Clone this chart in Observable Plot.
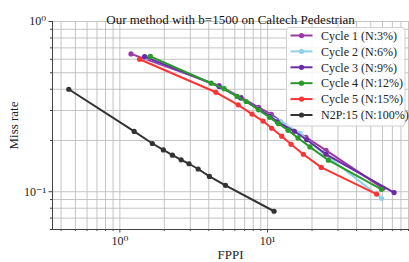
<!DOCTYPE html>
<html><head><meta charset="utf-8">
<script src="https://cdn.jsdelivr.net/npm/d3@7"></script>
<script src="https://cdn.jsdelivr.net/npm/@observablehq/plot@0.6"></script>
<style>
body{margin:0;background:#fff}
svg{font-family:"Liberation Serif","DejaVu Serif",serif}
</style>
</head><body><div id="chart"></div>
<script>
const titleText = "Our method with b=1500 on Caltech Pedestrian";
const seriesNames = ["Cycle 1 (N:3%)","Cycle 2 (N:6%)","Cycle 3 (N:9%)","Cycle 4 (N:12%)","Cycle 5 (N:15%)","N2P:15 (N:100%)"];
const seriesColors = ["#9b3aa6","#8fd0ea","#6a2ca6","#2a9a2a","#ff3333","#333333"];

const cycle1Fppi = [1.19, 4.70, 6.6, 8.7, 10.6, 13.5, 18.2, 24.9, 60.6];
const cycle1Miss = [0.645, 0.42, 0.358, 0.313, 0.285, 0.245, 0.209, 0.175, 0.1047];
const cycle2Fppi = [1.51, 4.9, 6.4, 8.6, 10.4, 12.2, 16.6, 24.0, 59.1];
const cycle2Miss = [0.617, 0.41, 0.36, 0.308, 0.278, 0.259, 0.22, 0.168, 0.0915];
const cycle3Fppi = [1.47, 4.70, 6.59, 8.67, 10.4, 11.65, 15.2, 18.4, 24.9, 71.9];
const cycle3Miss = [0.622, 0.415, 0.355, 0.307, 0.277, 0.257, 0.2265, 0.202, 0.166, 0.0989];
const cycle4Fppi = [1.61, 4.15, 5.08, 6.22, 7.16, 8.69, 10.3, 11.87, 13.76, 16.07, 19.36, 25.8, 59.1];
const cycle4Miss = [0.624, 0.434, 0.403, 0.363, 0.339, 0.303, 0.2735, 0.251, 0.2296, 0.207, 0.1834, 0.1532, 0.1033];
const cycle5Fppi = [1.36, 4.47, 6.32, 7.85, 9.33, 10.67, 12.47, 14.42, 17.46, 23.1, 54.7];
const cycle5Miss = [0.600, 0.384, 0.324, 0.286, 0.260, 0.236, 0.212, 0.190, 0.166, 0.139, 0.0969];
const n2pFppi = [0.451, 1.25, 1.66, 1.97, 2.27, 2.60, 2.94, 3.39, 4.04, 5.19, 11.07];
const n2pMiss = [0.400, 0.226, 0.192, 0.176, 0.164, 0.154, 0.146, 0.136, 0.123, 0.109, 0.0768];

const xMajorTicks = [1, 10];
const xTickLabels = ["10⁰", "10¹"];
const xMinorTicks = [0.4,0.5,0.6,0.7,0.8,0.9,2,3,4,5,6,7,8,9,20,30,40,50,60,70,80,90];
const yMajorTicks = [0.1, 1];
const yTickLabels = ["10⁻¹", "10⁰"];
const yMinorTicks = [0.06,0.07,0.08,0.09,0.2,0.3,0.4,0.5,0.6,0.7,0.8,0.9];

const fppiSets = [cycle1Fppi, cycle2Fppi, cycle3Fppi, cycle4Fppi, cycle5Fppi, n2pFppi];
const missSets = [cycle1Miss, cycle2Miss, cycle3Miss, cycle4Miss, cycle5Miss, n2pMiss];
const rows = [];
fppiSets.forEach((xs, i) => xs.forEach((x, j) => rows.push({series: seriesNames[i], fppi: x, miss: missSets[i][j]})));

const seriesMarks = [];
seriesNames.forEach(name => {
  const d = rows.filter(r => r.series === name);
  seriesMarks.push(Plot.line(d, {x: "fppi", y: "miss", stroke: "series", strokeWidth: 2}));
  seriesMarks.push(Plot.dot(d, {x: "fppi", y: "miss", fill: "series", r: 2.6}));
});

const plot = Plot.plot({
  width: 409, height: 262,
  marginLeft: 52, marginRight: 1, marginTop: 21, marginBottom: 33,
  style: {fontFamily: '"Liberation Serif","DejaVu Serif",serif', background: "#fff", color: "#222"},
  x: {type: "log", domain: [0.35, 90]},
  y: {type: "log", domain: [0.06, 1]},
  color: {domain: seriesNames, range: seriesColors},
  marks: [
    Plot.gridX({ticks: [...xMinorTicks, ...xMajorTicks], stroke: "#bdbdbd", strokeOpacity: 1, strokeWidth: 0.9}),
    Plot.gridY({ticks: [...yMinorTicks, ...yMajorTicks], stroke: "#bdbdbd", strokeOpacity: 1, strokeWidth: 0.9}),
    Plot.axisX({ticks: xMinorTicks, tickFormat: () => "", tickSize: 2, stroke: "#444", label: null}),
    Plot.axisY({ticks: yMinorTicks, tickFormat: () => "", tickSize: 2, stroke: "#444", label: null}),
    Plot.axisX({ticks: xMajorTicks, tickFormat: d => xTickLabels[xMajorTicks.indexOf(d)], tickSize: 3.5, tickPadding: 3, fontSize: 12, stroke: "#444",
      label: "FPPI", labelAnchor: "center", labelArrow: "none", labelOffset: 29}),
    Plot.axisY({ticks: yMajorTicks, tickFormat: d => yTickLabels[yMajorTicks.indexOf(d)], tickSize: 3.5, tickPadding: 3, fontSize: 12, stroke: "#444",
      label: "Miss rate", labelAnchor: "center", labelArrow: "none", labelOffset: 44}),
    Plot.frame({anchor: "left", stroke: "#444"}),
    Plot.frame({anchor: "bottom", stroke: "#444"}),
    ...seriesMarks,
    Plot.text([titleText], {frameAnchor: "top", dy: -7, fontSize: 13, fill: "#111"})
  ]
});
document.getElementById("chart").appendChild(plot);

const svg = d3.select(plot);
svg.selectAll("g[aria-label='x-axis label'] text, g[aria-label='y-axis label'] text").attr("font-size", 13);

// legend
const lg = svg.append("g").attr("transform", "translate(286.5,27.5)");
lg.append("rect").attr("width", 118.5).attr("height", 98.5).attr("rx", 3)
  .attr("fill", "#fff").attr("fill-opacity", 0.85).attr("stroke", "#d0d0d0");
seriesNames.forEach((name, i) => {
  const y = 8 + i * 15.9;
  const g = lg.append("g").attr("transform", `translate(0,${y})`);
  g.append("line").attr("x1", 4).attr("x2", 26).attr("y1", 0).attr("y2", 0)
    .attr("stroke", seriesColors[i]).attr("stroke-width", 2);
  g.append("circle").attr("cx", 15).attr("cy", 0).attr("r", 2.6).attr("fill", seriesColors[i]);
  g.append("text").attr("x", 34.5).attr("y", 0).attr("dy", "0.35em").attr("text-anchor", "start")
    .attr("font-size", 12).attr("fill", "#222").text(name);
});
</script>
</body></html>
